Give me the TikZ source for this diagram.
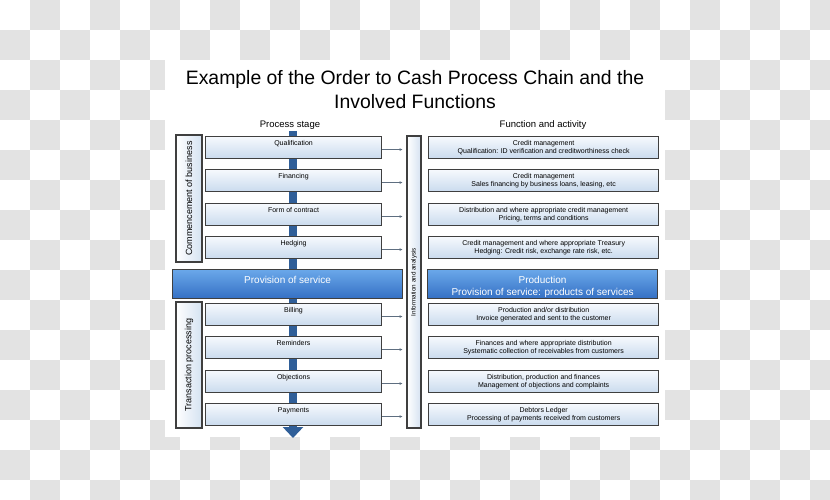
\documentclass[tikz,border=0pt]{standalone}
\usepackage{fontspec}
\setmainfont{Liberation Sans}
\usetikzlibrary{arrows.meta,positioning}

\definecolor{boxline}{HTML}{3F3F3F}
\definecolor{boxtop}{HTML}{F6F9FD}
\definecolor{boxbot}{HTML}{CADBEE}
\definecolor{bantop}{HTML}{6AA8EA}
\definecolor{banbot}{HTML}{3570C4}
\definecolor{flowblue}{HTML}{2F5E98}
\definecolor{checkgrey}{HTML}{E3E3E3}
\definecolor{linkgrey}{HTML}{5E6E80}

\begin{document}
\begin{tikzpicture}[x=1pt,y=-1pt,
	stage/.style={draw=boxline,line width=1.1pt,top color=boxtop,bottom color=boxbot,
		minimum width=176pt,minimum height=22pt,inner sep=0pt,anchor=north west,
		font=\fontsize{7}{8}\selectfont,text depth=9pt},
	func/.style={draw=boxline,line width=1.1pt,top color=boxtop,bottom color=boxbot,
		minimum width=230pt,minimum height=22pt,inner sep=0pt,align=center,
		font=\fontsize{7}{8.5}\selectfont},
	banner/.style={draw=boxline,line width=1.1pt,top color=bantop,bottom color=banbot,
		minimum width=230pt,minimum height=29pt,inner sep=0pt,align=center,text=white,
		font=\fontsize{10}{12}\selectfont},
	phase/.style={draw=boxline,line width=1.1pt,left color=white,right color=boxbot!80,
		minimum height=26pt,inner sep=0pt,rotate=90,font=\fontsize{9}{10}\selectfont},
	link/.style={linkgrey,line width=0.6pt,-{Stealth[length=3pt,width=2.6pt]},shorten >=4pt}]

	\useasboundingbox (0,0) rectangle (830,500);
	% background
	\foreach \i in {0,...,27}
	\foreach \j in {0,...,16}{
		\pgfmathtruncatemacro\odd{mod(\i+\j,2)}
		\ifnum\odd=1 \fill[checkgrey] (30*\i,30*\j) rectangle ++(30,30); \fi
	}
	\fill[white] (165,60) rectangle (665,437);

	\node[align=center,font=\fontsize{19.4}{24}\selectfont] (title) at (415,90)
		{Example of the Order to Cash Process Chain and the\\Involved Functions};
	\node[font=\fontsize{9.5}{11}\selectfont] (stagehead) at (290,125) {Process stage};
	\node[font=\fontsize{9.5}{11}\selectfont] (funchead) at (543,125) {Function and activity};

	% main flow
	\coordinate (flowtop) at (293,131);
	\coordinate (flowtip) at (293,438);
	\draw[flowblue,line width=8pt,-{Triangle[width=20pt,length=11pt]}] (flowtop) -- (flowtip);

	% process stages
	\node[stage] (qual) at (205,136) {Qualification};
	\node[stage] (fin) at (205,169) {Financing};
	\node[stage] (contract) at (205,203) {Form of contract};
	\node[stage] (hedge) at (205,236) {Hedging};
	\node[banner,anchor=north west,text depth=8pt] (prov) at (172,269) {Provision of service};
	\node[stage] (bill) at (205,303) {Billing};
	\node[stage] (remind) at (205,336) {Reminders};
	\node[stage] (object) at (205,370) {Objections};
	\node[stage] (pay) at (205,403) {Payments};

	\node[phase,minimum width=127pt] (commence) at (189,198.5) {Commencement of business};
	\node[phase,minimum width=126pt] (trans) at (189,365) {Transaction processing};
	\node[phase,minimum width=292pt,minimum height=14pt,font=\fontsize{6.3}{7}\selectfont] (info) at (414,282)
		{Information and analysis};

	% functions
	\node[func,right=46pt of qual] (fqual) {Credit management\\Qualification: ID verification and creditworthiness check};
	\node[func,right=46pt of fin] (ffin) {Credit management\\Sales financing by business loans, leasing, etc};
	\node[func,right=46pt of contract] (fcontract) {Distribution and where appropriate credit management\\Pricing, terms and conditions};
	\node[func,right=46pt of hedge] (fhedge) {Credit management and where appropriate Treasury\\Hedging: Credit risk, exchange rate risk, etc.};
	\node[banner,anchor=north west] (fprov) at (427,269) {\rule{0pt}{13pt}Production\\Provision of service: products of services};
	\node[func,right=46pt of bill] (fbill) {Production and/or distribution\\Invoice generated and sent to the customer};
	\node[func,right=46pt of remind] (fremind) {Finances and where appropriate distribution\\Systematic collection of receivables from customers};
	\node[func,right=46pt of object] (fobject) {Distribution, production and finances\\Management of objections and complaints};
	\node[func,right=46pt of pay] (fpay) {Debtors Ledger\\Processing of payments received from customers};

	% links to information
	\draw[link] ([yshift=-2pt]qual.east) -- ([yshift=-2pt]qual.east -| info.north);
	\draw[link] ([yshift=-2pt]fin.east) -- ([yshift=-2pt]fin.east -| info.north);
	\draw[link] ([yshift=-2pt]contract.east) -- ([yshift=-2pt]contract.east -| info.north);
	\draw[link] ([yshift=-2pt]hedge.east) -- ([yshift=-2pt]hedge.east -| info.north);
	\draw[link] ([yshift=-2pt]bill.east) -- ([yshift=-2pt]bill.east -| info.north);
	\draw[link] ([yshift=-2pt]remind.east) -- ([yshift=-2pt]remind.east -| info.north);
	\draw[link] ([yshift=-2pt]object.east) -- ([yshift=-2pt]object.east -| info.north);
	\draw[link] ([yshift=-2pt]pay.east) -- ([yshift=-2pt]pay.east -| info.north);

\end{tikzpicture}
\end{document}
